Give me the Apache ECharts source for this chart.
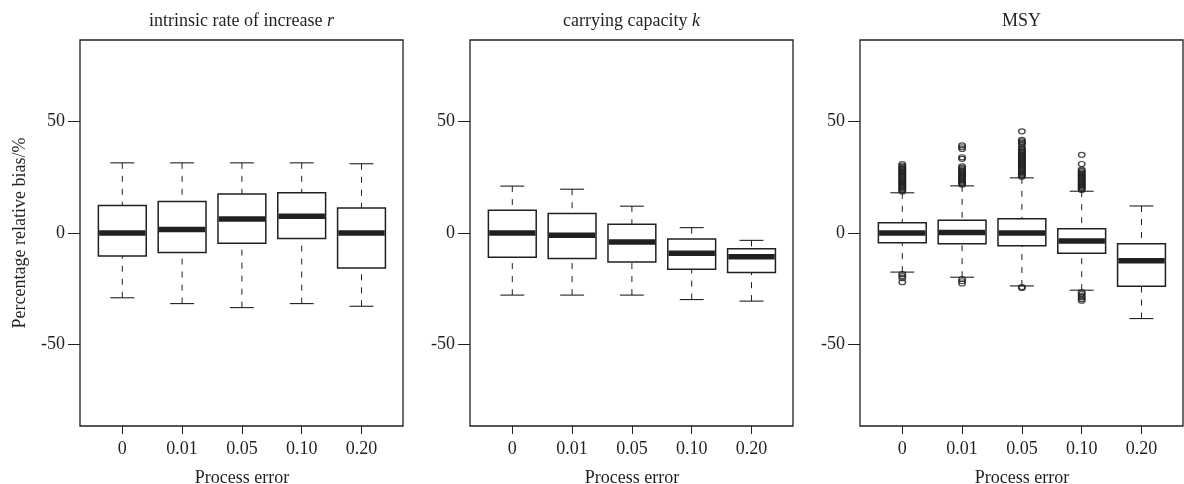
<!DOCTYPE html>
<html>
<head>
<meta charset="utf-8">
<script src="https://cdn.jsdelivr.net/npm/echarts@6/dist/echarts.min.js"></script>
<style>
  html, body { margin: 0; padding: 0; background: #fff; }
  #chart { width: 1184px; height: 484px; }
</style>
</head>
<body>
<div id="chart"></div>
<script>
// ---- data ----
const categories = ['0', '0.01', '0.05', '0.10', '0.20'];
const yTicks = [-50, 0, 50];
const xAxisTitle = 'Process error';
const yAxisTitle = 'Percentage relative bias/%';
const panelTitles = ['intrinsic rate of increase {i|r}', 'carrying capacity {i|k}', 'MSY'];

// each box: [lower whisker, Q1, median, Q3, upper whisker]
const rStats = [
  [-29.0, -10.3, 0.0, 12.3, 31.4],
  [-31.6, -8.7, 1.6, 14.1, 31.4],
  [-33.4, -4.6, 6.3, 17.5, 31.4],
  [-31.6, -2.5, 7.5, 18.0, 31.4],
  [-32.8, -15.7, 0.0, 11.2, 31.0]
];
const kStats = [
  [-27.8, -10.8, 0.0, 10.2, 21.0],
  [-27.8, -11.4, -1.0, 8.7, 19.6],
  [-27.8, -13.0, -4.0, 3.9, 12.0],
  [-29.8, -16.2, -9.1, -2.7, 2.4],
  [-30.5, -17.7, -10.6, -7.0, -3.3]
];
const msyStats = [
  [-17.5, -4.4, 0.0, 4.6, 18.0],
  [-19.8, -4.8, 0.2, 5.7, 21.1],
  [-23.7, -5.7, 0.0, 6.4, 24.7],
  [-25.6, -9.1, -3.6, 1.9, 18.7],
  [-38.3, -23.8, -12.4, -4.8, 12.1]
];
// MSY outliers per process-error level
const msyOutliers0 = [18.6, 19.1, 19.6, 20.1, 20.6, 21.1, 21.6, 22.1, 22.6, 23.1, 23.6, 24.1, 24.6, 25.1, 25.6, 26.1, 26.6, 27.1, 27.6, 28.1, 28.6, 29.1, 29.6, 30.2, 30.9, -18.4, -19.3, -20.2, -22.0];
const msyOutliers1 = [21.6, 22.1, 22.6, 23.1, 23.6, 24.1, 24.6, 25.1, 25.6, 26.1, 26.6, 27.1, 27.6, 28.1, 28.6, 29.2, 29.8, 33.2, 33.9, 37.6, 38.4, 39.2, -20.6, -21.6, -22.6];
const msyOutliers2 = [25.2, 25.7, 26.2, 26.7, 27.2, 27.7, 28.2, 28.7, 29.2, 29.7, 30.2, 30.7, 31.2, 31.7, 32.2, 32.7, 33.2, 33.7, 34.2, 34.7, 35.2, 35.7, 36.2, 36.7, 37.2, 37.8, 38.5, 39.8, 40.4, 41.0, 41.7, 45.5, -24.2, -24.6];
const msyOutliers3 = [19.2, 19.7, 20.2, 20.7, 21.2, 21.7, 22.2, 22.7, 23.2, 23.7, 24.2, 24.7, 25.2, 25.7, 26.2, 26.7, 27.2, 27.8, 28.4, 30.9, 35.0, -26.4, -27.2, -28.0, -28.8, -29.6, -30.3];
const msyOutliers4 = [];

// ---- styling / layout ----
const INK = '#231f20';
const FONT = 'Liberation Serif, Times New Roman, serif';
const FS = 18;
const frameLefts = [80, 470, 860];
const frameWidth = 323;
const frameTop = 40;
const frameHeight = 386;
const innerOffset = 12.4;
const innerWidth = 299;
const Y_MIN = -86.4, Y_MAX = 86.4;

function renderBox(params, api) {
  const j = api.value(0);
  const pMin = api.coord([j, api.value(1)]);
  const pQ1 = api.coord([j, api.value(2)]);
  const pMed = api.coord([j, api.value(3)]);
  const pQ3 = api.coord([j, api.value(4)]);
  const pMax = api.coord([j, api.value(5)]);
  const band = api.size([1, 0])[0];
  const bw = band * 0.8;
  const cw = band * 0.4;
  const x = pMed[0];
  const dash = { stroke: INK, lineWidth: 1, lineDash: [6, 7] };
  const solid = { stroke: INK, lineWidth: 1.1 };
  return {
    type: 'group',
    children: [
      { type: 'line', shape: { x1: x, y1: pMax[1], x2: x, y2: pQ3[1] }, style: dash },
      { type: 'line', shape: { x1: x, y1: pMin[1], x2: x, y2: pQ1[1] }, style: dash },
      { type: 'line', shape: { x1: x - cw / 2, y1: pMax[1], x2: x + cw / 2, y2: pMax[1] }, style: solid },
      { type: 'line', shape: { x1: x - cw / 2, y1: pMin[1], x2: x + cw / 2, y2: pMin[1] }, style: solid },
      { type: 'rect', shape: { x: x - bw / 2, y: pQ3[1], width: bw, height: pQ1[1] - pQ3[1] },
        style: { fill: '#fff', stroke: INK, lineWidth: 1.5 } },
      { type: 'line', shape: { x1: x - bw / 2 + 0.75, y1: pMed[1], x2: x + bw / 2 - 0.75, y2: pMed[1] },
        style: { stroke: INK, lineWidth: 5.5 } }
    ]
  };
}

const allStats = [rStats, kStats, msyStats];
const msyOutliers = [msyOutliers0, msyOutliers1, msyOutliers2, msyOutliers3, msyOutliers4];

const grid = [], xAxis = [], yAxis = [], series = [], title = [];
const textBase = { fontFamily: FONT, fontSize: FS, color: INK, fontWeight: 'normal' };

for (let p = 0; p < 3; p++) {
  const L = frameLefts[p];
  // frame grid
  grid.push({ left: L, top: frameTop, width: frameWidth, height: frameHeight, show: true,
    borderColor: INK, borderWidth: 1.3, backgroundColor: 'transparent',
    containLabel: false, outerBoundsMode: 'none' });
  // inner grid
  grid.push({ left: L + innerOffset, top: frameTop, width: innerWidth, height: frameHeight, show: false,
    containLabel: false, outerBoundsMode: 'none' });

  xAxis.push({ gridIndex: 2 * p, type: 'value', show: false, min: 0, max: 1 });
  yAxis.push({ gridIndex: 2 * p, type: 'value', show: false, min: 0, max: 1 });

  xAxis.push({
    gridIndex: 2 * p + 1, type: 'category', data: categories, boundaryGap: true, position: 'bottom',
    axisLine: { show: false, onZero: false },
    axisTick: { show: true, alignWithLabel: true, interval: 0, length: 8, lineStyle: { color: INK, width: 1 } },
    axisLabel: { margin: 14, interval: 0, ...textBase },
    splitLine: { show: false },
    name: xAxisTitle, nameLocation: 'middle', nameGap: 43, nameTextStyle: textBase
  });
  const ya = {
    gridIndex: 2 * p + 1, type: 'value', min: Y_MIN, max: Y_MAX, offset: innerOffset,
    axisLine: { show: false, onZero: false },
    axisTick: { show: true, length: 12, customValues: yTicks, lineStyle: { color: INK, width: 1 } },
    axisLabel: { margin: 15, customValues: yTicks, formatter: v => String(v), ...textBase },
    splitLine: { show: false }
  };
  if (p === 0) {
    ya.name = yAxisTitle;
    ya.nameLocation = 'middle';
    ya.nameGap = 51;
    ya.nameTextStyle = textBase;
  }
  yAxis.push(ya);

  series.push({
    type: 'custom', xAxisIndex: 2 * p + 1, yAxisIndex: 2 * p + 1,
    data: allStats[p].map((s, j) => [j].concat(s)),
    encode: { x: 0, y: [1, 2, 3, 4, 5] },
    renderItem: renderBox, z: 2, silent: true
  });

  title.push({
    text: panelTitles[p], left: L + frameWidth / 2, top: 12, textAlign: 'center', padding: 0,
    textStyle: { ...textBase, rich: { i: { fontFamily: FONT, fontSize: FS, color: INK, fontStyle: 'italic' } } }
  });
}

// MSY outliers
const outlierData = [];
msyOutliers.forEach((arr, j) => arr.forEach(v => outlierData.push([j, v])));
series.push({
  type: 'scatter', xAxisIndex: 5, yAxisIndex: 5, data: outlierData,
  symbol: 'circle', symbolSize: [6.5, 5], z: 3, silent: true,
  itemStyle: { color: 'rgba(0,0,0,0)', borderColor: INK, borderWidth: 1.3 }
});

const chart = echarts.init(document.getElementById('chart'), null, { renderer: 'canvas' });
chart.setOption({ animation: false, backgroundColor: '#fff', title, grid, xAxis, yAxis, series });
</script>
</body>
</html>
